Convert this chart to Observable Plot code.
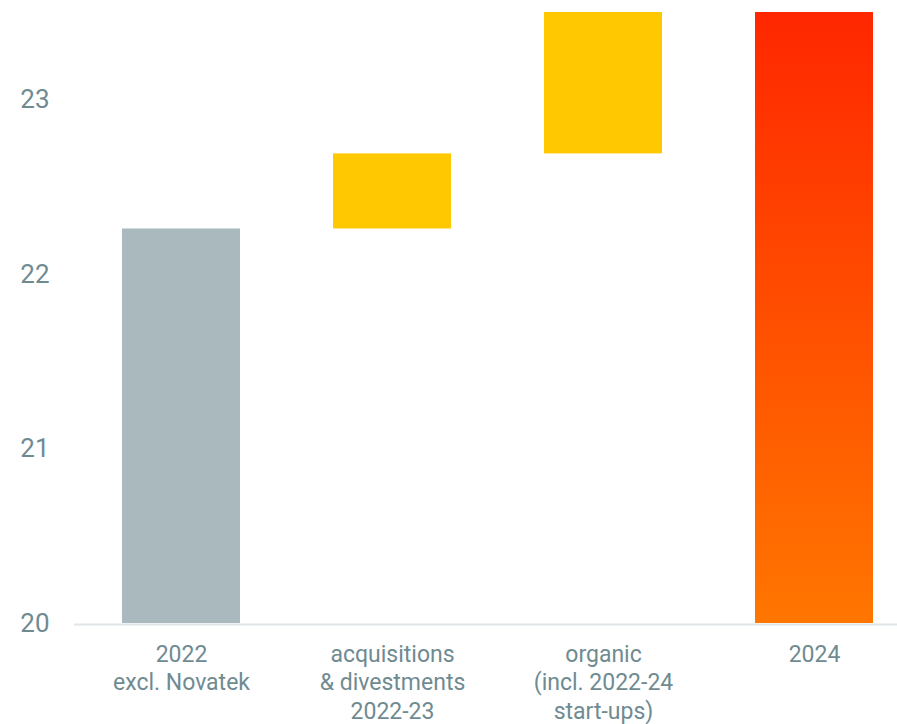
<!DOCTYPE html>
<html>
<head>
<meta charset="utf-8">
<script src="https://cdn.jsdelivr.net/npm/d3@7"></script>
<script src="https://cdn.jsdelivr.net/npm/@observablehq/plot@0.6"></script>
<style>
  html, body { margin: 0; padding: 0; background: #fff; }
  #chart svg { display: block; }
</style>
</head>
<body>
<div id="chart"></div>
<script>
// Categories and labels
const categories = ["start", "acq", "organic", "end"];
const categoryLabels = ["2022\nexcl. Novatek", "acquisitions\n& divestments\n2022-23", "organic\n(incl. 2022-24\nstart-ups)", "2024"];
// Waterfall values (start total, changes, end total)
const startValue = 22.26;
const changes = [0.43, 0.81];
const endValue = 23.50;
const axisMin = 20;
const axisMax = 23.5;
const barKinds = ["total", "change", "change", "total-end"];
const yTicks = [20, 21, 22, 23];

// Build bar table (totals drawn from the axis floor)
const rows = [];
let cum = startValue;
rows.push({cat: categories[0], y1: axisMin, y2: startValue, kind: barKinds[0]});
changes.forEach((c, i) => {
  rows.push({cat: categories[i + 1], y1: cum, y2: cum + c, kind: barKinds[i + 1]});
  cum += c;
});
rows.push({cat: categories[3], y1: axisMin, y2: endValue, kind: barKinds[3]});

const fills = {"total": "#a9b9bd", "change": "#ffc800", "total-end": "url(#endGradient)"};

const defs = () => {
  const d = d3.create("svg:defs");
  const g = d.append("linearGradient").attr("id", "endGradient")
    .attr("x1", 0).attr("y1", 0).attr("x2", 0).attr("y2", 1);
  g.append("stop").attr("offset", "0%").attr("stop-color", "#ff2700");
  g.append("stop").attr("offset", "100%").attr("stop-color", "#ff7600");
  return d.node();
};

const textColor = "#6f8b91";

const plot = Plot.plot({
  width: 897,
  height: 724,
  marginTop: 12,
  marginBottom: 101,
  marginLeft: 97,
  marginRight: 0,
  style: {fontFamily: "Roboto", color: textColor, background: "#fff"},
  x: {domain: categories, paddingInner: 0.4416, paddingOuter: 0.1136},
  y: {domain: [axisMin, axisMax]},
  marks: [
    defs,
    Plot.barY(rows, {x: "cat", y1: "y1", y2: "y2", fill: d => fills[d.kind]}),
    Plot.ruleY([axisMin], {stroke: "#e0e6e8", strokeWidth: 2, insetLeft: -23, dy: 1}),
    Plot.axisY({ticks: yTicks, tickSize: 0, tickPadding: 48, fontSize: 26, tickFormat: d => String(d), label: null}),
    Plot.axisX({tickSize: 0, tickPadding: 19, fontSize: 23, lineHeight: 1.22, label: null,
      tickFormat: d => categoryLabels[categories.indexOf(d)]})
  ]
});
document.getElementById("chart").appendChild(plot);
</script>
</body>
</html>
